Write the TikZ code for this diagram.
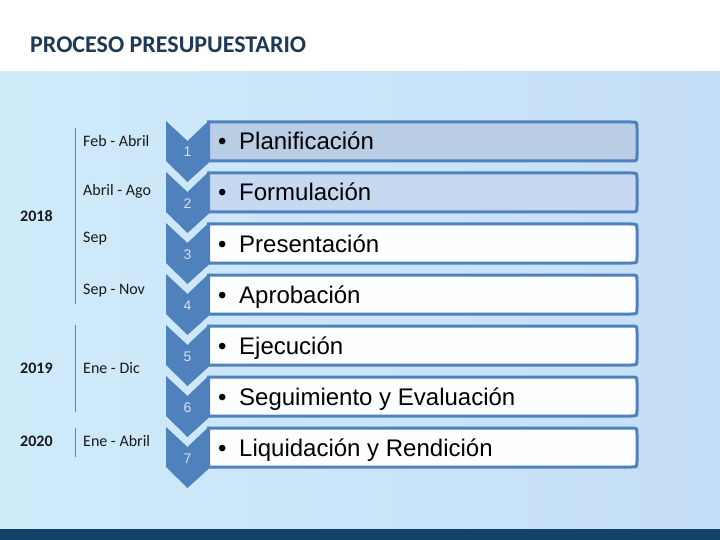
\documentclass[tikz,border=0pt]{standalone}
\usepackage{fontspec}
\setmainfont{Liberation Sans}
\newfontfamily\carlito{Carlito}
\definecolor{titlec}{RGB}{31,56,84}
\definecolor{bgA}{RGB}{207,235,250}
\definecolor{bgB}{RGB}{197,222,247}
\definecolor{navybar}{RGB}{15,68,104}
\definecolor{chevc}{RGB}{79,129,189}
\definecolor{numc}{RGB}{214,226,240}
\definecolor{vlinec}{RGB}{100,130,165}
\definecolor{fillA}{RGB}{185,205,229}
\definecolor{fillB}{RGB}{198,217,240}
\definecolor{fillC}{RGB}{253,254,255}
\begin{document}
\begin{tikzpicture}[x=1pt,y=-1pt,
  stepbox/.style={draw=chevc, line width=3pt},
  chevshape/.style={fill=chevc},
  numlabel/.style={anchor=base, inner sep=0pt, text=numc, font=\fontsize{14}{16}\selectfont},
  boxtext/.style={anchor=base west, inner sep=0pt, text=black, font=\fontsize{24}{28}\selectfont},
  period/.style={anchor=base west, inner sep=0pt, text=black!90, font=\carlito\fontsize{16}{19}\selectfont},
  yearlabel/.style={anchor=base west, inner sep=0pt, text=black!90, font=\carlito\bfseries\fontsize{16}{19}\selectfont},
  vline/.style={draw=vlinec, line width=1pt}]
\useasboundingbox (0,0) rectangle (720,540);
% background
\fill[white] (0,0) rectangle (720,72);
\shade[left color=bgA, right color=bgB] (0,72) rectangle (720,529);
\fill[navybar] (0,529) rectangle (720,540);
% title
\node[anchor=base west, inner sep=0pt, text=titlec, font=\carlito\bfseries\fontsize{24}{28}\selectfont] (title) at (30,53) {PROCESO PRESUPUESTARIO};
% steps
\foreach \k/\txt/\fc in {0/Planificación/fillA, 1/Formulación/fillB, 2/Presentación/fillC, 3/Aprobación/fillC, 4/Ejecución/fillC, 5/Seguimiento y Evaluación/fillC, 6/Liquidación y Rendición/fillC}{
  \pgfmathsetmacro{\yz}{121+51*\k}
  \draw[stepbox, fill=\fc] (208.5,\yz+1) -- (631,\yz+1) .. controls (637,\yz+1) .. (637,\yz+7) -- (637,\yz+34) .. controls (637,\yz+40) .. (631,\yz+40) -- (208.5,\yz+40) -- cycle;
  \fill[chevshape] (166,\yz) -- (187.5,\yz+20) -- (209,\yz-0.5) -- (209,\yz+41.5) -- (187.5,\yz+61) -- (166,\yz+40) -- cycle;
  \pgfmathtruncatemacro{\num}{\k+1}
  \node[numlabel] (num\num) at (187.5,\yz+36) {\num};
  \node[boxtext] (step\num) at (218,\yz+29) {\makebox[21pt][l]{•}\txt};
}
% periods
\node[period] (p1) at (83,147) {Feb - Abril};
\node[period] (p2) at (83,196) {Abril - Ago};
\node[period] (p3) at (83,243) {Sep};
\node[period] (p4) at (83,294) {Sep - Nov};
\node[period] (p5) at (83,373) {Ene - Dic};
\node[period] (p6) at (83,446) {Ene - Abril};
% years
\node[yearlabel] (y2018) at (20,222) {2018};
\node[yearlabel] (y2019) at (20,373) {2019};
\node[yearlabel] (y2020) at (20,446) {2020};
% separators
\draw[vline] (75,128) -- (75,304);
\draw[vline] (75,325) -- (75,412);
\draw[vline] (75,428) -- (75,457);
\end{tikzpicture}
\end{document}
